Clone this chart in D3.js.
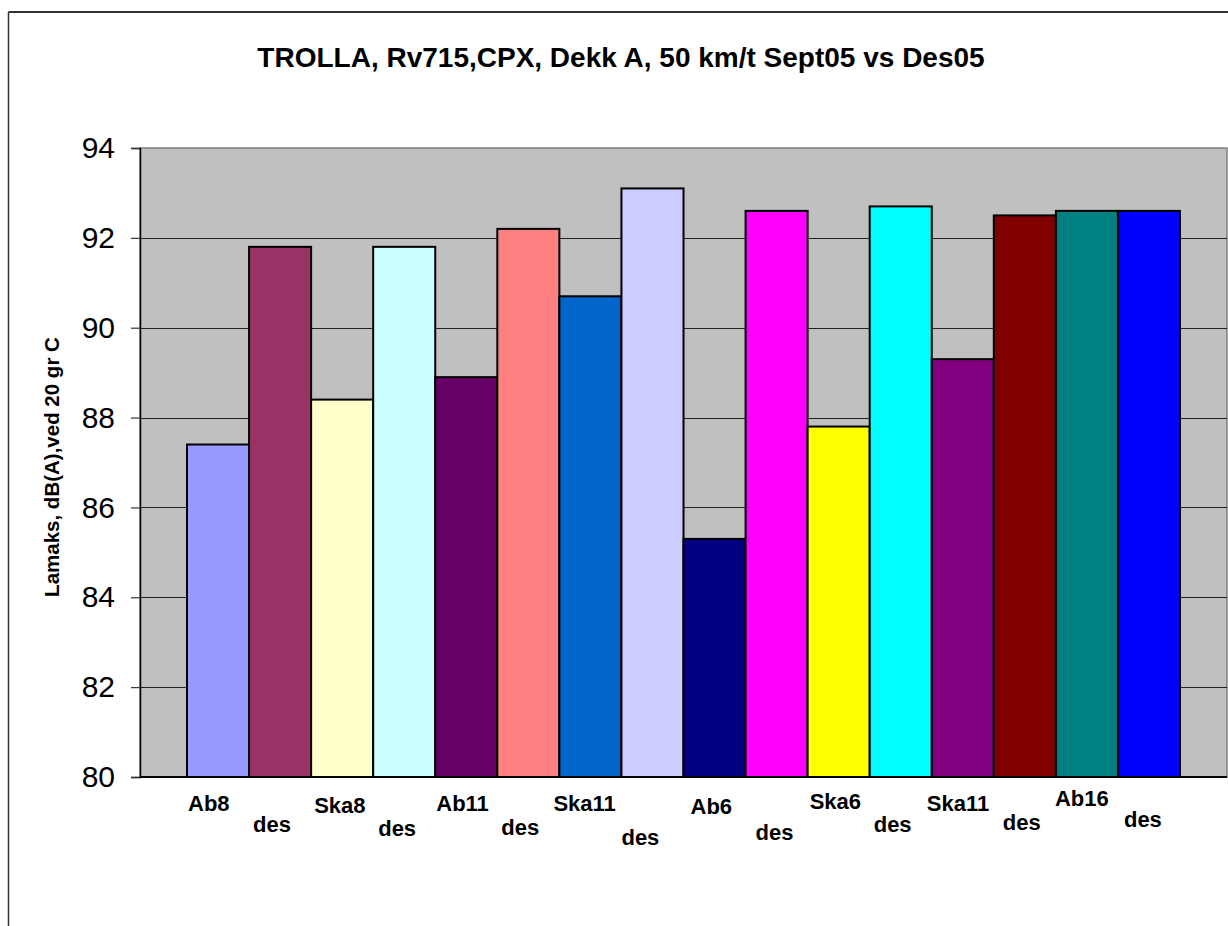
<!DOCTYPE html>
<html>
<head>
<meta charset="utf-8">
<script src="https://cdn.jsdelivr.net/npm/d3@7/dist/d3.min.js"></script>
<style>
  html, body { margin: 0; padding: 0; background: #fff; }
  svg { display: block; }
  text { font-family: "Liberation Sans", Arial, sans-serif; }
</style>
</head>
<body>
<svg id="chart" width="1228" height="926"></svg>
<script>
// ---- data ----
const title = "TROLLA, Rv715,CPX, Dekk A, 50 km/t Sept05 vs Des05";
const yTitle = "Lamaks, dB(A),ved 20 gr C";
const labels = ["Ab8", "des", "Ska8", "des", "Ab11", "des", "Ska11", "des",
                "Ab6", "des", "Ska6", "des", "Ska11", "des", "Ab16", "des"];
const values = [87.4, 91.8, 88.4, 91.8, 88.9, 92.2, 90.7, 93.1,
                85.3, 92.6, 87.8, 92.7, 89.3, 92.5, 92.6, 92.6];
const colors = ["#9999FF", "#993366", "#FFFFCC", "#CCFFFF", "#660066", "#FF8080", "#0066CC", "#CCCCFF",
                "#000080", "#FF00FF", "#FFFF00", "#00FFFF", "#800080", "#800000", "#008080", "#0000FF"];
const yTicks = [80, 82, 84, 86, 88, 90, 92, 94];
// label placement tweaks (layout only): horizontal shift from bar left, baseline below axis
const labelDx = [1, 4, 3, 5, 1, 4, -6, 0, 7, 10, 2, 4, -5, 9, -1, 6];
const labelDy = [34, 55, 36, 59, 34, 58, 34, 68, 37, 63, 32, 55, 34, 53, 29, 50];

// ---- layout ----
const svg = d3.select("#chart");
const plot = { left: 140, right: 1227, top: 148, bottom: 777 };
const clusterPad = 47;

const y = d3.scaleLinear().domain([80, 94]).range([plot.bottom, plot.top]);
const x = d3.scaleBand().domain(d3.range(labels.length))
  .range([plot.left + clusterPad, plot.right - clusterPad]).padding(0);

// outer chart frame (partially visible)
svg.append("line").attr("x1", 8.5).attr("x2", 1228).attr("y1", 12).attr("y2", 12)
  .attr("stroke", "#333").attr("stroke-width", 2);
svg.append("line").attr("x1", 8.5).attr("x2", 8.5).attr("y1", 12).attr("y2", 926)
  .attr("stroke", "#333").attr("stroke-width", 1.5);

// plot area
svg.append("rect")
  .attr("x", plot.left).attr("y", plot.top)
  .attr("width", plot.right - plot.left).attr("height", plot.bottom - plot.top)
  .attr("fill", "#C0C0C0").attr("stroke", "#808080").attr("stroke-width", 1.5);

// gridlines
svg.append("g").selectAll("line").data(yTicks.filter(t => t !== 80 && t !== 94)).join("line")
  .attr("x1", plot.left).attr("x2", plot.right)
  .attr("y1", d => Math.round(y(d)) + 0.5).attr("y2", d => Math.round(y(d)) + 0.5)
  .attr("stroke", "#222").attr("stroke-width", 1);

// bars
svg.append("g").selectAll("rect").data(values).join("rect")
  .attr("x", (d, i) => x(i))
  .attr("y", d => y(d))
  .attr("width", x.bandwidth())
  .attr("height", d => y(80) - y(d))
  .attr("fill", (d, i) => colors[i])
  .attr("stroke", "#000").attr("stroke-width", 2);

// y axis
const yAxis = d3.axisLeft(y).tickValues(yTicks).tickSize(9).tickPadding(16).tickFormat(d3.format("d"));
const gy = svg.append("g").attr("transform", `translate(${plot.left},0)`).call(yAxis);
gy.select(".domain").attr("stroke", "#000").attr("stroke-width", 1.5);
gy.selectAll(".tick line").attr("stroke", "#333").attr("stroke-width", 1.2);
gy.selectAll(".tick text").attr("font-size", 30).attr("fill", "#000")
  .attr("font-family", "'Liberation Sans', Arial, sans-serif");

// x axis line
svg.append("line").attr("x1", plot.left).attr("x2", plot.right)
  .attr("y1", plot.bottom).attr("y2", plot.bottom)
  .attr("stroke", "#000").attr("stroke-width", 2);

// category labels
svg.append("g").selectAll("text").data(labels).join("text")
  .attr("x", (d, i) => x(i) + labelDx[i])
  .attr("y", (d, i) => plot.bottom + labelDy[i])
  .attr("font-size", 22).attr("font-weight", "bold").attr("fill", "#000")
  .text(d => d);

// title
svg.append("text").attr("x", 621).attr("y", 67)
  .attr("text-anchor", "middle").attr("font-size", 28).attr("font-weight", "bold")
  .text(title);

// y title
svg.append("text")
  .attr("transform", `translate(59,${467}) rotate(-90)`)
  .attr("text-anchor", "middle").attr("font-size", 20.5).attr("font-weight", "bold")
  .text(yTitle);
</script>
</body>
</html>
